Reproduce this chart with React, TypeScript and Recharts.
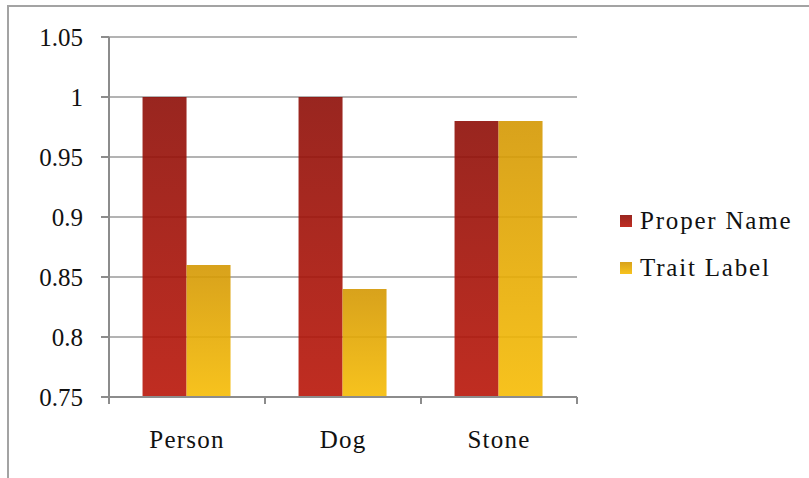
import React from 'react';
import { BarChart, Bar, XAxis, YAxis, CartesianGrid } from 'recharts';

const categories = ['Person', 'Dog', 'Stone'];
const properName = [1, 1, 0.98];
const traitLabel = [0.86, 0.84, 0.98];
const yTicks = [0.75, 0.8, 0.85, 0.9, 0.95, 1, 1.05];
const seriesNames = ['Proper Name', 'Trait Label'];

const data = categories.map((name, i) => ({
  name,
  properName: properName[i],
  traitLabel: traitLabel[i],
}));

const FONT = 'Liberation Serif';
const AXIS = '#8c8c8c';
const swatches = ['linear-gradient(#992620, #c02d22)', 'linear-gradient(#d8a21c, #f7c31e)'];

function CategoryTick(props: any) {
  const { x, y, payload, index } = props;
  const half = payload && payload.offset ? payload.offset : 78;
  return (
    <g>
      <line x1={x - half} y1={y - 8} x2={x - half} y2={y - 1} stroke={AXIS} strokeWidth={2} />
      {index === categories.length - 1 && (
        <line x1={x + half} y1={y - 8} x2={x + half} y2={y - 1} stroke={AXIS} strokeWidth={2} />
      )}
      <text x={x} y={y + 43} textAnchor="middle" fill="#111" fontSize={25} fontFamily={FONT} letterSpacing={1.2}>
        {payload.value}
      </text>
    </g>
  );
}

function ChartLegend() {
  return (
    <div style={{ position: 'absolute', left: 620, top: 207, fontFamily: FONT }}>
      {seriesNames.map((label, i) => (
        <div key={label} style={{ display: 'flex', alignItems: 'center', height: 28, marginBottom: i === 0 ? 19 : 0 }}>
          <div style={{ width: 12, height: 12, background: swatches[i], marginRight: 8 }} />
          <span style={{ fontSize: 25, color: '#111', letterSpacing: 1.8, whiteSpace: 'nowrap' }}>{label}</span>
        </div>
      ))}
    </div>
  );
}

export default function App() {
  return (
    <div style={{ position: 'absolute', left: 0, top: 0, width: 809, height: 478, background: '#fff', overflow: 'hidden' }}>
      <div
        style={{
          position: 'absolute',
          left: 7,
          top: 5,
          width: 820,
          height: 500,
          borderTop: '2.5px solid #a3a3a3',
          borderLeft: '2.5px solid #a3a3a3',
        }}
      />
      <div style={{ position: 'absolute', left: 0, top: 0 }}>
        <BarChart
          width={809}
          height={478}
          data={data}
          margin={{ top: 37, right: 232, bottom: 0, left: 0 }}
          barCategoryGap="21.5%"
          barGap={0}
        >
          <defs>
            {/* slightly translucent fills so the grid shows through the bars */}
            <linearGradient id="gradRed" x1="0" y1="0" x2="0" y2="1">
              <stop offset="0%" stopColor="#8e0e07" />
              <stop offset="100%" stopColor="#b91609" />
            </linearGradient>
            <linearGradient id="gradYellow" x1="0" y1="0" x2="0" y2="1">
              <stop offset="0%" stopColor="#d49803" />
              <stop offset="100%" stopColor="#f6bc05" />
            </linearGradient>
          </defs>
          <CartesianGrid vertical={false} stroke="#9a9a9a" strokeWidth={1.6} />
          <XAxis
            dataKey="name"
            height={81}
            axisLine={{ stroke: AXIS, strokeWidth: 2 }}
            tickLine={false}
            tick={<CategoryTick />}
            interval={0}
          />
          <YAxis
            width={109}
            domain={[0.75, 1.05]}
            ticks={yTicks}
            interval={0}
            axisLine={{ stroke: AXIS, strokeWidth: 2 }}
            tickLine={{ stroke: AXIS, strokeWidth: 2 }}
            tickSize={8}
            tickMargin={18}
            tick={{ fill: '#111', fontSize: 25, fontFamily: FONT }}
            tickFormatter={(v: number) => String(v)}
          />
          <Bar dataKey="properName" name="Proper Name" fill="url(#gradRed)" fillOpacity={0.9} isAnimationActive={false} />
          <Bar dataKey="traitLabel" name="Trait Label" fill="url(#gradYellow)" fillOpacity={0.9} isAnimationActive={false} />
        </BarChart>
      </div>
      <ChartLegend />
    </div>
  );
}
